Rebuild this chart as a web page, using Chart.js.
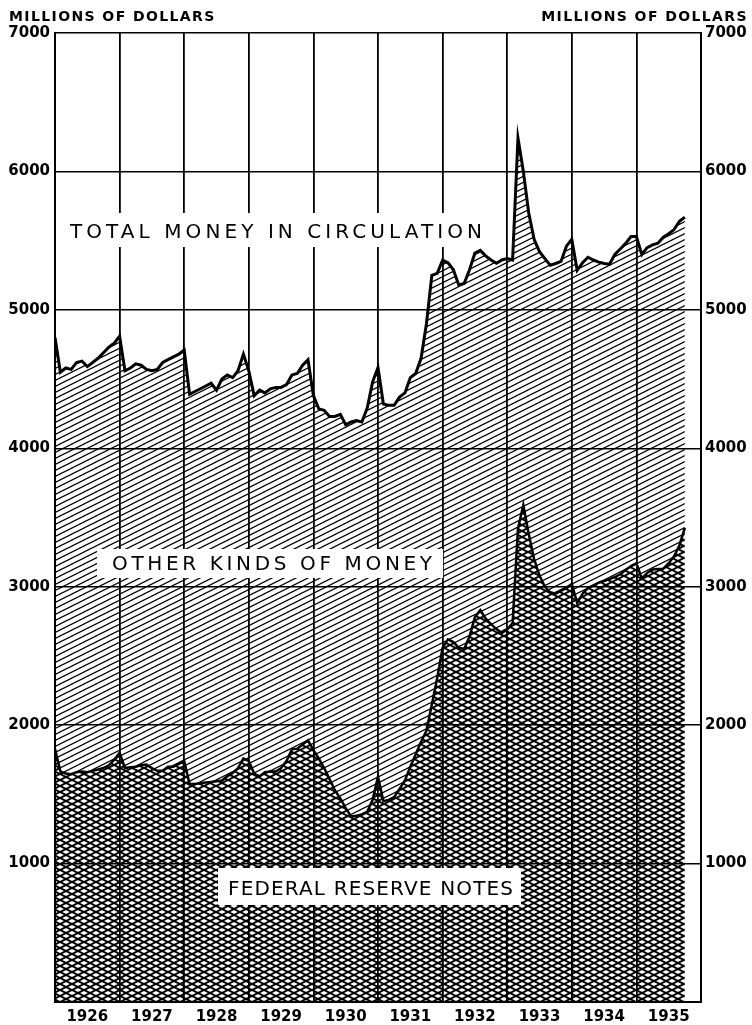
<!DOCTYPE html>
<html>
<head>
<meta charset="utf-8">
<script src="https://cdn.jsdelivr.net/npm/chart.js@4.4.0/dist/chart.umd.min.js"></script>
<style>
  body { margin: 0; background: #fff; }
  canvas { display: block; }
</style>
</head>
<body>
<canvas id="myChart" width="752" height="1025"></canvas>
<script>
// years on the bottom axis, one label per 12 monthly points
const years = ['1926', '1927', '1928', '1929', '1930', '1931', '1932', '1933', '1934', '1935'];

// monthly figures, millions of dollars, starting at the end of 1925
const totalMoney = [
    4800, 4550, 4580, 4570, 4620, 4630, 4590, 4620, 4650, 4690, 4730, 4760, 4810,
    4560, 4580, 4610, 4600, 4570, 4560, 4570, 4620, 4640, 4660, 4680, 4710,
    4390, 4410, 4430, 4450, 4470, 4420, 4500, 4530, 4510, 4560, 4680, 4560,
    4380, 4420, 4400, 4430, 4440, 4440, 4460, 4530, 4540, 4600, 4640, 4380,
    4285, 4275, 4230, 4230, 4245, 4170, 4190, 4200, 4190, 4290, 4480, 4584,
    4320, 4310, 4310, 4370, 4400, 4510, 4540, 4650, 4900, 5250, 5264, 5358,
    5340, 5290, 5180, 5190, 5290, 5410, 5430, 5390, 5360, 5337, 5360, 5370, 5360,
    6242, 6000, 5700, 5510, 5420, 5370, 5322, 5335, 5350, 5460, 5510, 5286,
    5340, 5380, 5360, 5345, 5335, 5330, 5400, 5440, 5480, 5530, 5530,
    5400, 5450, 5470, 5482, 5525, 5550, 5580, 5640, 5670
];

const fedNotes = [
    1830, 1665, 1650, 1645, 1660, 1665, 1660, 1670, 1680, 1690, 1710, 1750, 1800,
    1690, 1695, 1700, 1710, 1715, 1690, 1670, 1670, 1700, 1700, 1720, 1740,
    1575, 1575, 1580, 1585, 1590, 1595, 1600, 1630, 1655, 1690, 1760, 1740,
    1650, 1630, 1660, 1665, 1665, 1690, 1740, 1825, 1830, 1860, 1890, 1820,
    1760, 1690, 1610, 1530, 1470, 1400, 1340, 1345, 1355, 1375, 1460, 1629,
    1450, 1460, 1480, 1540, 1600, 1700, 1790, 1880, 1960, 2150, 2340, 2560,
    2620, 2600, 2560, 2550, 2640, 2780, 2830, 2770, 2730, 2694, 2665, 2690, 2737,
    3420, 3590, 3380, 3200, 3080, 3000, 2960, 2950, 2970, 2990, 3020, 2882,
    2950, 2990, 3010, 3030, 3041, 3055, 3070, 3090, 3120, 3150, 3170,
    3060, 3100, 3125, 3128, 3130, 3170, 3220, 3300, 3425
];

function makeHatch(cross) {
    const c = document.createElement('canvas');
    c.width = 12;
    c.height = 6;
    const g = c.getContext('2d');
    g.strokeStyle = '#000';
    g.lineWidth = cross ? 2 : 1.2;
    for (let k = -2; k <= 2; k++) {
        // rising to the right
        g.beginPath();
        g.moveTo(-12, 12 + 6 * k);
        g.lineTo(24, -6 + 6 * k);
        g.stroke();
        if (cross) {
            g.beginPath();
            g.moveTo(-12, -6 + 6 * k);
            g.lineTo(24, 12 + 6 * k);
            g.stroke();
        }
    }
    return g.createPattern(c, 'repeat');
}

const tickFont = { family: 'DejaVu Sans', weight: 'bold', size: 15 };
const tickLabel = v => (v === 0 ? '' : String(v));

// titles, year labels and the boxed captions
const decorations = {
    id: 'decorations',
    afterDraw(chart) {
        const ctx = chart.ctx;
        const xs = chart.scales.x;
        ctx.save();
        ctx.fillStyle = '#000';

        ctx.font = 'bold 14px "DejaVu Sans"';
        ctx.letterSpacing = '1.4px';
        ctx.textBaseline = 'alphabetic';
        ctx.textAlign = 'left';
        ctx.fillText('MILLIONS OF DOLLARS', 9, 21);
        ctx.textAlign = 'right';
        ctx.fillText('MILLIONS OF DOLLARS', 748, 21);

        ctx.letterSpacing = '0px';
        ctx.font = 'bold 15px "DejaVu Sans"';
        ctx.textAlign = 'center';
        ctx.textBaseline = 'middle';
        years.forEach((y, i) => {
            ctx.fillText(y, xs.getPixelForValue(12 * i + 6), 1017);
        });

        function caption(text, left, right, baseline, box) {
            ctx.fillStyle = '#fff';
            ctx.fillRect(box[0], box[1], box[2] - box[0], box[3] - box[1]);
            ctx.fillStyle = '#000';
            ctx.font = '20px "DejaVu Sans"';
            ctx.letterSpacing = '0px';
            const w = ctx.measureText(text).width;
            ctx.letterSpacing = ((right - left - w) / (text.length - 1)) + 'px';
            ctx.textAlign = 'left';
            ctx.textBaseline = 'alphabetic';
            ctx.fillText(text, left, baseline);
        }
        caption('TOTAL MONEY IN CIRCULATION', 70, 482, 238, [63, 213, 489, 247]);
        caption('OTHER KINDS OF MONEY', 112, 432, 570, [97, 549, 443, 578]);
        caption('FEDERAL RESERVE NOTES', 228, 513, 895, [218, 868, 521, 905]);
        ctx.restore();
    }
};

var ctx = document.getElementById('myChart').getContext('2d');
var chart = new Chart(ctx, {
    type: 'line',
    data: {
        datasets: [{
            label: 'Federal Reserve Notes',
            data: fedNotes.map((v, i) => ({ x: i, y: v })),
            borderColor: '#000',
            borderWidth: 2.5,
            backgroundColor: makeHatch(true),
            fill: 'origin',
            pointRadius: 0,
            tension: 0
        }, {
            label: 'Total Money in Circulation',
            data: totalMoney.map((v, i) => ({ x: i, y: v })),
            borderColor: '#000',
            borderWidth: 3,
            backgroundColor: makeHatch(false),
            fill: '-1',
            pointRadius: 0,
            tension: 0
        }]
    },
    options: {
        responsive: false,
        animation: false,
        devicePixelRatio: 1,
        layout: { padding: { top: 33, left: 0, right: 0, bottom: 0 } },
        plugins: { legend: { display: false }, tooltip: { enabled: false } },
        scales: {
            x: {
                type: 'linear',
                min: 0,
                max: 120,
                ticks: { stepSize: 12, display: false },
                grid: { color: '#000', lineWidth: 1.8, drawTicks: false },
                border: { color: '#000', width: 2 },
                afterFit: s => { s.height = 23; }
            },
            y: {
                min: 0,
                max: 7000,
                ticks: { stepSize: 1000, callback: tickLabel, font: tickFont, color: '#000', padding: 5 },
                grid: { color: '#000', lineWidth: 1.5, drawTicks: false },
                border: { color: '#000', width: 2 },
                afterFit: s => { s.width = 55; }
            },
            y2: {
                position: 'right',
                min: 0,
                max: 7000,
                ticks: { stepSize: 1000, callback: tickLabel, font: tickFont, color: '#000', padding: 4 },
                grid: { display: false, drawTicks: false },
                border: { color: '#000', width: 2 },
                afterFit: s => { s.width = 51; }
            }
        }
    },
    plugins: [decorations]
});
</script>
</body>
</html>
